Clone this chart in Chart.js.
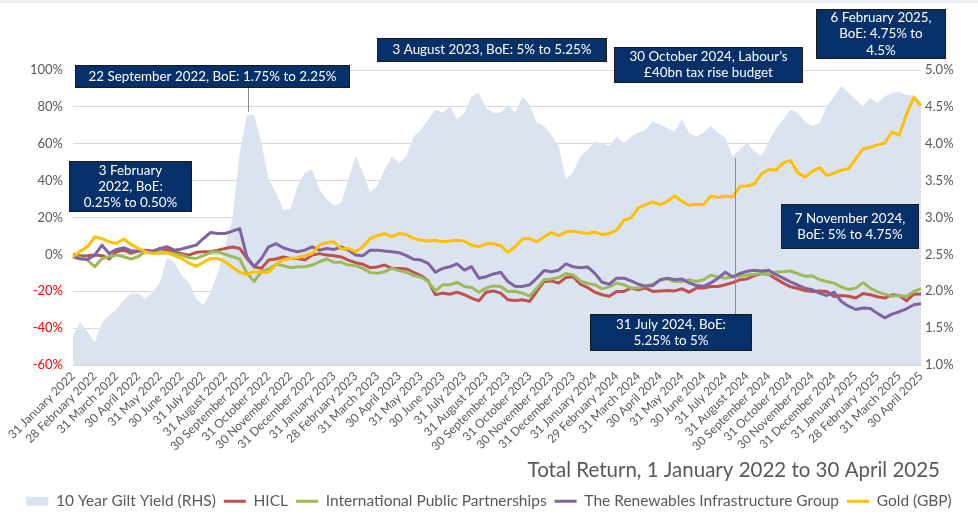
<!DOCTYPE html>
<html>
<head>
<meta charset="utf-8">
<script src="https://cdn.jsdelivr.net/npm/chart.js@4.4.1/dist/chart.umd.min.js"></script>
<style>
    html, body { margin: 0; padding: 0; background: #ffffff; }
    #wrap { position: relative; width: 978px; height: 515px; }
</style>
</head>
<body>
<div id="wrap"><canvas id="returnsChart" width="978" height="515"></canvas></div>
<script>
// Month-end tick labels (one every third data point)
const monthEnds = [
    '31 January 2022', '28 February 2022', '31 March 2022', '30 April 2022', '31 May 2022', '30 June 2022',
    '31 July 2022', '31 August 2022', '30 September 2022', '31 October 2022', '30 November 2022', '31 December 2022',
    '31 January 2023', '28 February 2023', '31 March 2023', '30 April 2023', '31 May 2023', '30 June 2023',
    '31 July 2023', '31 August 2023', '30 September 2023', '31 October 2023', '30 November 2023', '31 December 2023',
    '31 January 2024', '29 February 2024', '31 March 2024', '30 April 2024', '31 May 2024', '30 June 2024',
    '31 July 2024', '31 August 2024', '30 September 2024', '31 October 2024', '30 November 2024', '31 December 2024',
    '31 January 2025', '28 February 2025', '31 March 2025', '30 April 2025'
];
const pointsPerMonth = 3;

// 10 year gilt yield, % (right axis)
const giltYield = [
    1.40, 1.58, 1.45, 1.31, 1.58, 1.67, 1.76, 1.88, 1.97, 1.97,
    1.90, 1.99, 2.12, 2.46, 2.39, 2.21, 2.12, 1.90, 1.81, 1.99,
    2.26, 2.62, 2.98, 3.88, 4.39, 4.39, 4.01, 3.52, 3.34, 3.11,
    3.11, 3.43, 3.61, 3.65, 3.38, 3.25, 3.16, 3.20, 3.52, 3.83,
    3.61, 3.34, 3.43, 3.65, 3.83, 3.74, 3.83, 4.10, 4.19, 4.33,
    4.46, 4.42, 4.51, 4.33, 4.42, 4.64, 4.69, 4.48, 4.42, 4.42,
    4.53, 4.42, 4.64, 4.53, 4.28, 4.24, 4.12, 3.97, 3.52, 3.61,
    3.83, 3.92, 4.03, 4.01, 3.97, 4.10, 4.01, 4.10, 4.15, 4.19,
    4.30, 4.26, 4.21, 4.17, 4.33, 4.15, 4.10, 4.15, 4.24, 4.15,
    4.08, 3.83, 3.92, 4.01, 3.90, 3.83, 4.03, 4.21, 4.33, 4.46,
    4.42, 4.30, 4.24, 4.28, 4.51, 4.64, 4.78, 4.69, 4.60, 4.51,
    4.62, 4.55, 4.64, 4.69, 4.71, 4.66, 4.66, 4.57
];

// Total returns, % (left axis)
const hicl = [
    0, -0.9, -0.7, -0.4, -0.7, -2.5, 1.4, 2.2, 0.7, 1.8,
    2.0, 1.4, 3.1, 2.5, 1.4, 0.4, -0.4, 1.1, 1.4, 1.4,
    2.3, 3.2, 4.0, 3.2, -2.2, -6.7, -7.6, -3.1, -2.5, -1.4,
    -2.2, -2.2, -3.1, -0.4, 0.4, -0.4, -0.7, -1.4, -3.1, -4.5,
    -5.4, -7.2, -6.8, -5.8, -7.6, -7.6, -7.9, -9.7, -11.5, -14.4,
    -21.9, -21.0, -21.6, -20.5, -21.9, -23.7, -25.2, -20.5, -19.8, -21.0,
    -24.6, -25.0, -24.6, -25.5, -20.1, -14.7, -14.4, -15.6, -12.6, -12.1,
    -16.2, -18.0, -20.5, -21.9, -22.7, -20.1, -20.1, -18.3, -19.2, -18.3,
    -20.1, -19.8, -19.6, -19.8, -18.7, -20.5, -18.3, -18.3, -17.4, -17.4,
    -16.5, -15.3, -13.8, -13.3, -11.5, -10.4, -10.8, -13.3, -15.6, -17.6,
    -18.5, -19.6, -20.1, -19.8, -20.1, -22.8, -22.3, -22.7, -23.7, -21.2,
    -21.9, -23.0, -23.7, -21.9, -22.3, -25.2, -21.6, -21.5
];

const inpp = [
    -0.4, -1.8, -3.1, -6.7, -2.2, -1.3, -0.4, -1.3, -2.5, -1.3,
    1.8, 1.4, 1.4, 0.9, 0.4, -0.4, -1.8, -2.2, -0.7, 1.1,
    1.4, 0, -1.3, -2.5, -10.3, -14.7, -9.4, -7.9, -5.4, -6.1,
    -7.2, -6.7, -6.7, -5.8, -4.0, -2.5, -4.3, -4.3, -5.8, -6.1,
    -7.6, -9.9, -10.3, -9.4, -7.6, -8.8, -9.7, -11.5, -12.4, -14.7,
    -19.8, -16.5, -16.5, -15.1, -17.4, -18.0, -20.5, -18.3, -17.1, -17.4,
    -20.1, -20.1, -21.0, -22.7, -18.3, -13.8, -13.3, -12.6, -10.4, -11.2,
    -14.4, -15.8, -16.5, -18.7, -17.6, -15.6, -16.5, -18.3, -18.3, -17.3,
    -16.2, -14.0, -13.3, -14.7, -14.7, -13.8, -14.7, -13.8, -11.3, -12.2,
    -12.9, -12.1, -11.7, -11.2, -10.8, -10.3, -10.8, -9.5, -9.4, -9.0,
    -10.4, -11.9, -11.7, -13.7, -14.7, -15.6, -17.6, -19.1, -18.3, -15.3,
    -18.3, -20.3, -21.6, -22.7, -22.3, -22.8, -20.1, -18.6
];

const trig = [
    -1.3, -2.5, -2.7, -0.4, 5.0, 0.5, 2.7, 3.6, 2.0, 1.8,
    2.3, 1.8, 3.2, 4.1, 2.3, 2.9, 4.0, 5.0, 8.6, 11.9,
    11.3, 11.3, 12.6, 14.0, -1.3, -6.7, -2.2, 4.1, 5.8, 3.6,
    2.3, 1.4, 2.3, 4.1, 2.3, 3.2, 2.7, 4.0, 2.3, -0.4,
    -0.7, 2.3, 2.3, 1.8, 1.4, 0.9, -0.7, -2.7, -3.1, -4.9,
    -9.7, -7.6, -6.7, -5.2, -8.5, -6.7, -12.9, -12.1, -10.6, -9.7,
    -14.7, -17.3, -17.4, -16.5, -12.9, -8.8, -9.4, -8.6, -5.2, -6.7,
    -7.2, -6.8, -10.3, -15.1, -16.2, -12.9, -12.9, -14.4, -16.2, -17.3,
    -16.9, -13.8, -12.9, -13.8, -13.3, -15.5, -16.9, -17.3, -15.5, -12.9,
    -9.7, -12.1, -10.4, -9.2, -8.6, -9.0, -8.6, -11.0, -12.9, -14.9,
    -16.7, -18.3, -19.2, -21.0, -22.3, -20.5, -25.5, -28.1, -29.9, -29.1,
    -29.3, -32.0, -34.4, -32.4, -31.1, -29.5, -27.3, -26.8
];

const gold = [
    -1.3, 1.8, 4.1, 9.5, 8.5, 6.8, 5.9, 8.3, 5.4, 3.2,
    1.4, 0.5, 0.9, 0.9, -0.7, -2.2, -4.7, -6.5, -4.3, -2.2,
    -2.2, -4.0, -7.0, -9.7, -10.8, -9.4, -9.7, -9.7, -5.4, -2.9,
    -2.2, -1.8, -0.7, 0.5, 5.0, 6.5, 6.8, 2.9, 3.2, 1.4,
    4.1, 8.6, 10.1, 11.3, 9.5, 11.3, 10.8, 8.6, 7.7, 7.2,
    7.7, 6.8, 7.2, 7.7, 7.2, 5.0, 4.1, 5.8, 5.8, 4.7,
    1.1, 4.1, 8.3, 8.6, 6.8, 9.5, 11.9, 10.1, 12.2, 12.6,
    11.9, 11.3, 12.1, 10.8, 11.3, 13.1, 18.5, 19.8, 25.2, 27.0,
    28.4, 27.0, 28.8, 31.7, 28.8, 26.6, 27.2, 27.0, 31.7, 30.9,
    31.7, 31.1, 36.9, 37.1, 38.3, 43.7, 46.0, 45.7, 49.6, 50.9,
    44.2, 41.9, 45.0, 47.1, 42.8, 44.1, 45.7, 46.4, 51.8, 57.2,
    58.1, 59.4, 60.4, 66.5, 64.7, 76.1, 85.1, 80.6
];

// Axis ranges
const leftMin = -60, leftMax = 100, leftStep = 20;
const rightMin = 1.0, rightMax = 5.0, rightStep = 0.5;

// Event call-outs (box left, top, width, height in px; optional stem x, y1, y2)
const callouts = [
    { text: ['22 September 2022, BoE: 1.75% to 2.25%'], box: [75, 65, 275, 23], stem: [248, 88, 112] },
    { text: ['3 February', '2022, BoE:', '0.25% to 0.50%'], box: [69, 161, 123, 51] },
    { text: ['3 August 2023, BoE: 5% to 5.25%'], box: [377, 38, 230, 24] },
    { text: ['30 October 2024, Labour\u2019s', '\u00a340bn tax rise budget'], box: [614, 47, 189, 36] },
    { text: ['6 February 2025,', 'BoE: 4.75% to', '4.5%'], box: [816, 9, 130, 50] },
    { text: ['7 November 2024,', 'BoE: 5% to 4.75%'], box: [781, 204, 138, 45] },
    { text: ['31 July 2024, BoE:', '5.25% to 5%'], box: [590, 314, 162, 37], stem: [735, 158, 314] }
];

const chartTitle = 'Total Return, 1 January 2022 to 30 April 2025';

// Build category labels: a month-end name on every third point
const labels = giltYield.map((v, i) => (i % pointsPerMonth === 0 ? monthEnds[i / pointsPerMonth] : ''));

const FONT = 'Lato, "Open Sans", sans-serif';
const GREY = '#595959';

// Draws the top band, the title text and the call-out boxes
const calloutPlugin = {
    id: 'callouts',
    afterLayout(chart) {
        // nudge the legend row a little lower, like the original
        if (chart.legend) {
            chart.legend.top += 4;
            chart.legend.bottom += 4;
        }
    },
    beforeDraw(chart) {
        const ctx = chart.ctx;
        ctx.save();
        ctx.fillStyle = '#e8eef2';
        ctx.fillRect(0, 0, chart.width, 3);
        ctx.restore();
    },
    afterDraw(chart) {
        const ctx = chart.ctx;
        ctx.save();

        // title under the axis labels
        ctx.font = '20.5px ' + FONT;
        ctx.fillStyle = GREY;
        ctx.textAlign = 'right';
        ctx.textBaseline = 'middle';
        ctx.fillText(chartTitle, 940, 470);

        // stems first, then the boxes
        ctx.strokeStyle = '#8c8c8c';
        ctx.lineWidth = 1;
        callouts.forEach(c => {
            if (!c.stem) return;
            ctx.beginPath();
            ctx.moveTo(c.stem[0] + 0.5, c.stem[1]);
            ctx.lineTo(c.stem[0] + 0.5, c.stem[2]);
            ctx.stroke();
        });

        callouts.forEach(c => {
            const [x, y, w, h] = c.box;
            ctx.fillStyle = '#06306a';
            ctx.fillRect(x, y, w, h);
            ctx.strokeStyle = '#1b1b1b';
            ctx.strokeRect(x + 0.5, y + 0.5, w - 1, h - 1);

            ctx.fillStyle = '#ffffff';
            ctx.font = '13.4px ' + FONT;
            ctx.textAlign = 'center';
            ctx.textBaseline = 'middle';
            const lineH = 16.3;
            const startY = y + h / 2 - (c.text.length - 1) * lineH / 2;
            c.text.forEach((t, k) => ctx.fillText(t, x + w / 2, startY + k * lineH));
        });
        ctx.restore();
    }
};

const ctx = document.getElementById('returnsChart');

new Chart(ctx, {
    type: 'line',
    data: {
        labels: labels,
        datasets: [
            {
                label: '10 Year Gilt Yield (RHS)',
                data: giltYield,
                yAxisID: 'y1',
                fill: 'start',
                backgroundColor: '#dce3f0',
                borderColor: '#dce3f0',
                borderWidth: 0,
                pointRadius: 0,
                pointStyle: 'rect',
                order: 5
            },
            {
                label: 'HICL',
                data: hicl,
                yAxisID: 'y',
                borderColor: '#c0504d',
                backgroundColor: '#c0504d',
                borderWidth: 3,
                pointRadius: 0,
                pointStyle: 'line',
                order: 4
            },
            {
                label: 'International Public Partnerships',
                data: inpp,
                yAxisID: 'y',
                borderColor: '#9bbb59',
                backgroundColor: '#9bbb59',
                borderWidth: 3,
                pointRadius: 0,
                pointStyle: 'line',
                order: 3
            },
            {
                label: 'The Renewables Infrastructure Group',
                data: trig,
                yAxisID: 'y',
                borderColor: '#8064a2',
                backgroundColor: '#8064a2',
                borderWidth: 3,
                pointRadius: 0,
                pointStyle: 'line',
                order: 2
            },
            {
                label: 'Gold (GBP)',
                data: gold,
                yAxisID: 'y',
                borderColor: '#ffc000',
                backgroundColor: '#ffc000',
                borderWidth: 3,
                pointRadius: 0,
                pointStyle: 'line',
                order: 1
            }
        ]
    },
    options: {
        responsive: false,
        animation: false,
        layout: {
            padding: { top: 70, bottom: 0, left: 0, right: 0 }
        },
        elements: {
            line: { tension: 0, borderJoinStyle: 'round' }
        },
        scales: {
            x: {
                type: 'category',
                grid: { display: false, drawTicks: false },
                border: { display: false },
                ticks: {
                    autoSkip: false,
                    minRotation: 45,
                    maxRotation: 45,
                    padding: 4,
                    color: GREY,
                    font: { family: FONT, size: 12 }
                },
                afterFit: scale => { scale.height = 116.5; }
            },
            y: {
                position: 'left',
                min: leftMin,
                max: leftMax,
                ticks: {
                    stepSize: leftStep,
                    padding: 10,
                    callback: v => v + '%',
                    color: c => (c.tick && c.tick.value < 0 ? '#ff0000' : GREY),
                    font: { family: FONT, size: 13 }
                },
                grid: { color: '#d9d9d9', drawTicks: false },
                border: { display: false },
                afterFit: scale => { scale.width = 73; }
            },
            y1: {
                position: 'right',
                min: rightMin,
                max: rightMax,
                ticks: {
                    stepSize: rightStep,
                    padding: 4,
                    callback: v => v.toFixed(1) + '%',
                    color: GREY,
                    font: { family: FONT, size: 13 }
                },
                grid: { display: false, drawTicks: false },
                border: { display: false },
                afterFit: scale => { scale.width = 57; }
            }
        },
        plugins: {
            legend: {
                position: 'bottom',
                labels: {
                    usePointStyle: true,
                    pointStyleWidth: 22,
                    boxHeight: 9,
                    padding: 8,
                    color: GREY,
                    font: { family: FONT, size: 15.5 },
                    sort: (a, b) => a.datasetIndex - b.datasetIndex
                }
            },
            tooltip: { enabled: false }
        }
    },
    plugins: [calloutPlugin]
});
</script>
</body>
</html>
